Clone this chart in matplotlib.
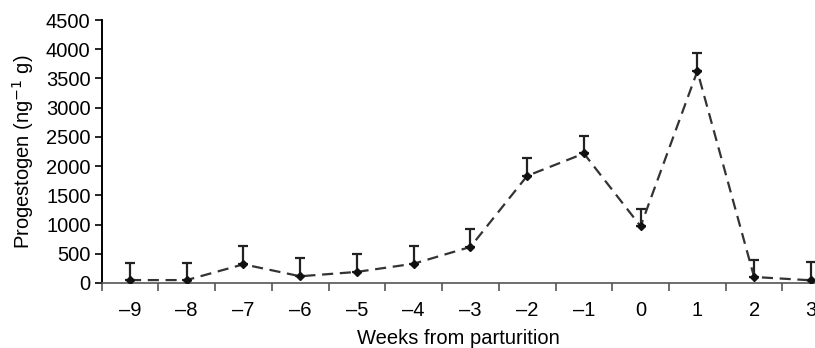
import matplotlib
matplotlib.use("Agg")
import matplotlib.pyplot as plt
from matplotlib.ticker import FixedLocator

plt.rcParams['font.family'] = ['Liberation Sans', 'DejaVu Sans']

# --- DATA ---
weeks = ["\u20139", "\u20138", "\u20137", "\u20136", "\u20135", "\u20134", "\u20133",
         "\u20132", "\u20131", "0", "1", "2", "3"]
progestogen = [50, 50, 320, 115, 190, 330, 617, 1833, 2216, 971, 3626, 103, 46]
err_upper = [300, 300, 307, 315, 300, 300, 303, 303, 302, 291, 304, 286, 309]

FS = 14.5

# --- PLOT ---
fig = plt.figure(figsize=(8.15, 3.48), dpi=100)
ax = fig.add_axes([0.1247, 0.1868, 0.905, 0.7557])

x = list(range(len(weeks)))
ax.errorbar(x, progestogen, yerr=[[0] * len(x), err_upper], fmt='none',
            ecolor='#222222', elinewidth=1.6, capsize=3.5, capthick=1.6, zorder=2)
ax.plot(x, progestogen, linestyle='--', dashes=(5, 3), color='#333333', linewidth=1.6,
        marker='D', markersize=4.5, markerfacecolor='#111111',
        markeredgecolor='#111111', zorder=3)

ax.set_xlim(-0.5, len(weeks) - 0.5)
ax.set_ylim(0, 4500)
ax.set_yticks(range(0, 4501, 500))

# category boundaries as ticks, labels centred
ax.xaxis.set_major_locator(FixedLocator([i - 0.5 for i in range(len(weeks) + 1)]))
ax.xaxis.set_major_formatter(plt.NullFormatter())
ax.xaxis.set_minor_locator(FixedLocator(x))
ax.set_xticklabels(weeks, minor=True)
ax.tick_params(axis='x', which='major', direction='out', length=6, width=1.2, color='#555555')
ax.tick_params(axis='x', which='minor', length=0, pad=13, labelsize=FS)
ax.tick_params(axis='y', direction='out', length=5, width=1.2, labelsize=FS, pad=3)

for s in ['top', 'right']:
    ax.spines[s].set_visible(False)
ax.spines['left'].set_linewidth(1.4)
ax.spines['bottom'].set_linewidth(1.2)
ax.spines['bottom'].set_color('#555555')

ax.set_xlabel("Weeks from parturition", fontsize=FS)
ax.xaxis.set_label_coords(0.483, -0.176)
ax.set_ylabel("Progestogen (ng$^{\u22121}$ g)", fontsize=FS, labelpad=7)

fig.savefig("out.png", dpi=100)
